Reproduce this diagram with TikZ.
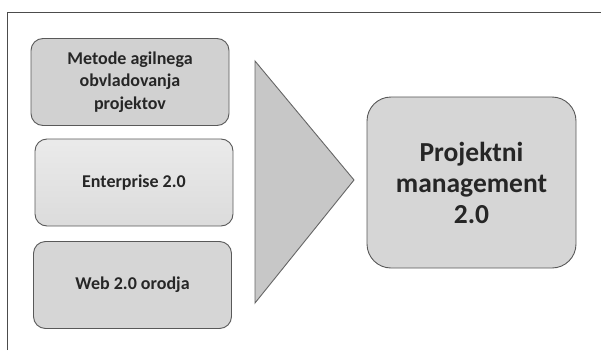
\documentclass[tikz,border=0pt]{standalone}
\usepackage{fontspec}
\setmainfont{Carlito}
\usetikzlibrary{positioning}

\begin{document}
\begin{tikzpicture}[x=1pt, y=-1pt,
  every node/.style = {shape=rectangle, draw=black!65, line width=0.9pt,
    align=center, font=\bfseries, text=black!85},
  srcbox/.style = {rounded corners=12pt, minimum width=198pt,
    minimum height=87pt, font=\fontsize{18}{22.5}\selectfont\bfseries},
  goalbox/.style = {rounded corners=24pt, minimum width=209pt,
    minimum height=171pt, font=\fontsize{27.5}{31}\selectfont\bfseries}]
  \useasboundingbox (0,0) rectangle (601,350);
  \draw[black!70, line width=0.8pt] (7,350) -- (7,12) -- (601,12);
  \node[srcbox, fill=black!18] (agile) at (130,82) {Metode agilnega\\obvladovanja\\projektov};
  \node[srcbox, top color=black!8, bottom color=black!14] (enterprise) at (134,182.5) {Enterprise 2.0};
  \node[srcbox, fill=black!16] (web) at (132.5,285) {Web 2.0 orodja};
  \draw[black!60, line width=0.9pt, fill=black!22] (255,61) -- (354,180) -- (255,303) -- cycle;
  \node[goalbox, fill=black!16] (pm) at (471.5,182.5) {Projektni\\management\\2.0};
\end{tikzpicture}
\end{document}
